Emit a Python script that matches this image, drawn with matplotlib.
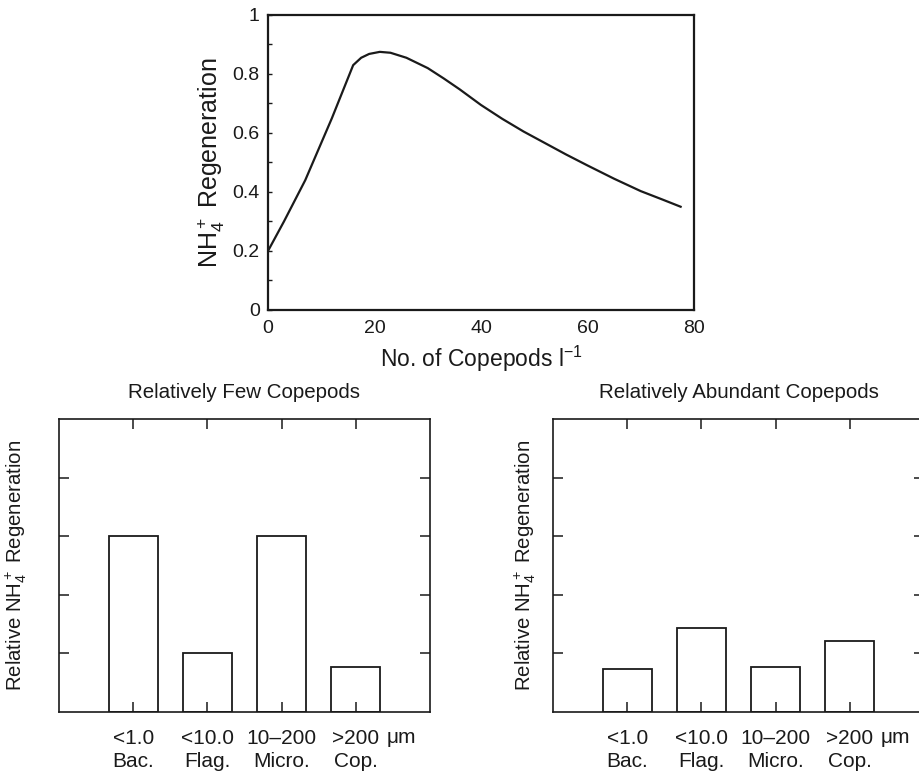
import matplotlib
matplotlib.use("Agg")
import matplotlib.pyplot as plt
from matplotlib.ticker import MultipleLocator

plt.rcParams['font.family'] = ['Liberation Sans', 'DejaVu Sans']
plt.rcParams['mathtext.fontset'] = 'custom'
plt.rcParams['mathtext.rm'] = 'Liberation Sans'
plt.rcParams['mathtext.it'] = 'Liberation Sans:italic'
plt.rcParams['mathtext.bf'] = 'Liberation Sans:bold'

# top panel: NH4+ regeneration vs copepod abundance
copepods = [0, 3, 7, 12, 16, 17.5, 19, 21, 23, 26, 30, 33, 36, 40, 44, 48,
            52, 56, 60, 65, 70, 74, 77.5]
regen = [0.2, 0.3, 0.44, 0.65, 0.83, 0.855, 0.868, 0.875, 0.872, 0.855, 0.82,
         0.785, 0.748, 0.695, 0.648, 0.605, 0.566, 0.527, 0.49, 0.445, 0.403,
         0.375, 0.35]

# bottom panels: relative regeneration by size class
size_labels = ['<1.0\nBac.', '<10.0\nFlag.', '10\u2013200\nMicro.', '>200\nCop.']
few_copepods = [3.0, 1.0, 3.0, 0.77]
abundant_copepods = [0.74, 1.43, 0.77, 1.22]

ink = '#1a1a1a'
fig = plt.figure(figsize=(9.19, 7.73), dpi=100)

ax = fig.add_axes([0.2916, 0.5990, 0.4635, 0.3816])
ax.plot(copepods, regen, color=ink, lw=1.6)
ax.set_xlim(0, 80)
ax.set_ylim(0, 1)
ax.set_xticks([0, 20, 40, 60, 80])
ax.set_yticks([0, 0.2, 0.4, 0.6, 0.8, 1])
ax.set_yticklabels(['0', '0.2', '0.4', '0.6', '0.8', '1'])
ax.yaxis.set_minor_locator(MultipleLocator(0.1))
ax.tick_params(which='both', direction='in', length=3, width=1, colors=ink,
               labelsize=14, pad=6)
ax.tick_params(axis='x', length=0, pad=7)
for s in ax.spines.values():
    s.set_linewidth(1.6)
    s.set_color(ink)
ax.set_xlabel('No. of Copepods l$^{-1}$', fontsize=16.5, color=ink, labelpad=5)
ax.set_ylabel('NH$_4^+$ Regeneration', fontsize=18, color=ink, labelpad=4)


def bar_panel(rect, values, title, ylab_x):
    a = fig.add_axes(rect)
    pos = range(1, len(values) + 1)
    a.bar(pos, values, width=0.66, facecolor='white', edgecolor=ink, lw=1.3)
    a.set_xlim(0, 5)
    a.set_ylim(0, 5)
    a.set_xticks(list(pos))
    a.set_xticklabels(size_labels, fontsize=15, color=ink, linespacing=1.3)
    a.set_yticks([1, 2, 3, 4])
    a.set_yticklabels([])
    a.tick_params(direction='in', length=7, width=1.1, colors=ink,
                  top=True, right=True, pad=12)
    for s in a.spines.values():
        s.set_linewidth(1.2)
        s.set_color(ink)
    a.text(4.61, -0.44, '\u03bcm', fontsize=15, color=ink, ha='center', va='center')
    a.set_title(title, fontsize=14.8, color=ink, pad=15)
    a.set_ylabel('Relative NH$_4^+$ Regeneration', fontsize=14.7, color=ink)
    a.yaxis.set_label_coords(ylab_x, 0.5)
    return a


bar_panel([0.0642, 0.0789, 0.4037, 0.379], few_copepods,
          'Relatively Few Copepods', -0.081)
bar_panel([0.6017, 0.0789, 0.4037, 0.379], abundant_copepods,
          'Relatively Abundant Copepods', -0.04)

fig.savefig('out.png', dpi=100)
